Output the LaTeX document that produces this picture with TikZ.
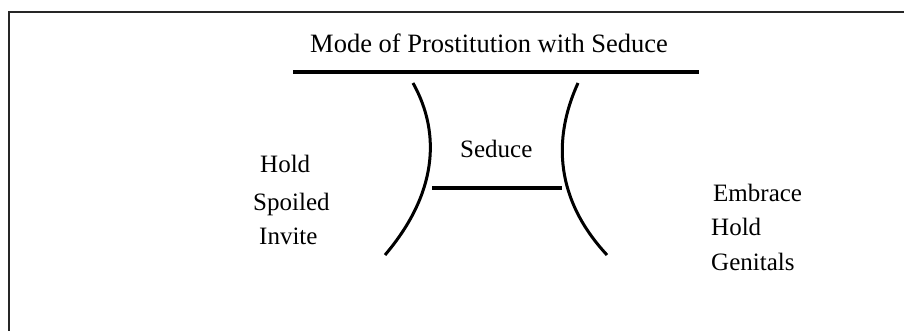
\documentclass[tikz,border=0pt]{standalone}
\usepackage{fontspec}
\setmainfont{Liberation Serif}
\begin{document}
\begin{tikzpicture}[x=1pt,y=-1pt,
  lbl/.style={anchor=base west,inner sep=0pt,font=\fontsize{25}{30}\selectfont},
  ttl/.style={anchor=base west,inner sep=0pt,font=\fontsize{26.5}{30}\selectfont},
  bar/.style={line width=4pt},
  arc/.style={line width=3pt}]
\useasboundingbox (0,0) rectangle (904,331);
\begin{scope}
\clip (0,0) rectangle (904,331);
\draw[line width=2pt,black!85] (9,12) rectangle (920,345);
\end{scope}
\node[ttl] (title) at (310,53) {Mode of Prostitution with Seduce};
\coordinate (tl) at (293,72);
\coordinate (tr) at (699,72);
\draw[bar] (tl) -- (tr);
\coordinate (l1) at (413,83);
\coordinate (l2) at (385,255);
\draw[arc] (l1) .. controls (442,135) and (436,195) .. (l2);
\coordinate (r1) at (578,83);
\coordinate (r2) at (607,255);
\draw[arc] (r1) .. controls (552,140) and (556,200) .. (r2);
\node[lbl] (seduce) at (460,158) {Seduce};
\coordinate (ml) at (432,188);
\coordinate (mr) at (562,188);
\draw[bar] (ml) -- (mr);
\node[lbl] (hold1) at (260,173) {Hold};
\node[lbl] (spoiled) at (253,210) {Spoiled};
\node[lbl] (invite) at (259,244) {Invite};
\node[lbl] (embrace) at (713,201) {Embrace};
\node[lbl] (hold2) at (711,235) {Hold};
\node[lbl] (genitals) at (711,270) {Genitals};
\end{tikzpicture}
\end{document}
